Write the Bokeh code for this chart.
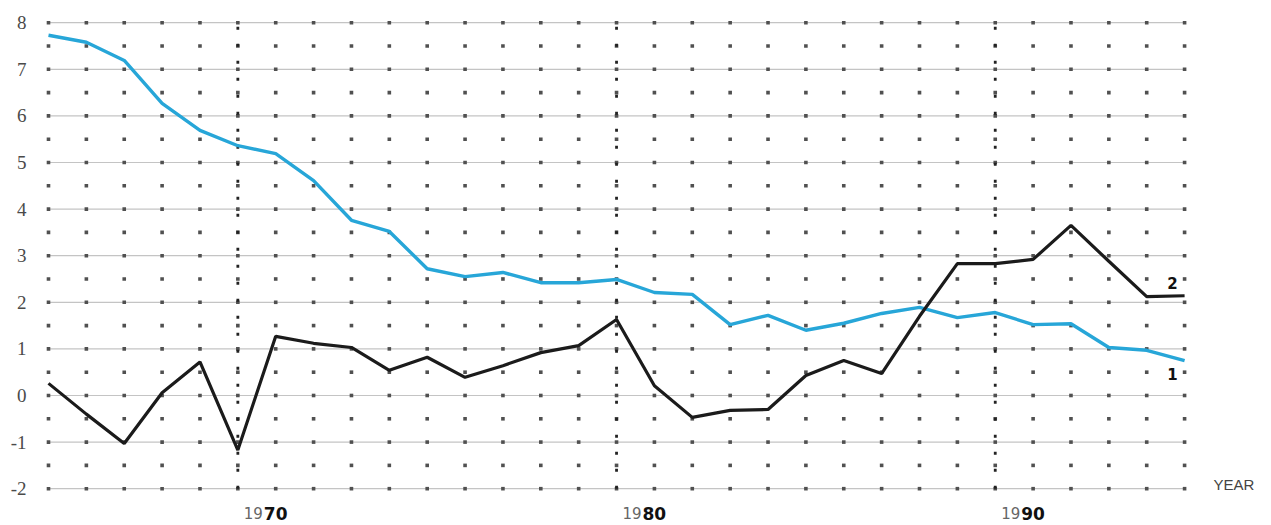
from bokeh.plotting import figure
from bokeh.models import Range1d, FixedTicker, ColumnDataSource
from bokeh.core.properties import value
from bokeh.embed import file_html
from bokeh.resources import INLINE

years = list(range(1965, 1996))
series1 = [7.73, 7.58, 7.19, 6.27, 5.69, 5.36, 5.19, 4.61, 3.76, 3.52,
           2.72, 2.55, 2.64, 2.42, 2.42, 2.49, 2.21, 2.17, 1.52, 1.72,
           1.40, 1.55, 1.76, 1.89, 1.67, 1.78, 1.52, 1.54, 1.03, 0.97, 0.75]
series2 = [0.26, -0.40, -1.03, 0.06, 0.72, -1.17, 1.27, 1.12, 1.03, 0.54,
           0.82, 0.39, 0.64, 0.92, 1.07, 1.63, 0.21, -0.47, -0.32, -0.30,
           0.43, 0.75, 0.47, 1.70, 2.83, 2.83, 2.92, 3.65, 2.88, 2.12, 2.14]
y_ticks = list(range(-2, 9))
decades = [1970, 1980, 1990]
x_labels = ["1970", "1980", "1990"]
series_names = ["1", "2"]
axis_title = "YEAR"

p = figure(width=1271, height=525,
           x_range=Range1d(1964.736, 1997.295), y_range=Range1d(-2.790, 8.476),
           output_backend="svg", toolbar_location=None, x_axis_location=None,
           min_border_left=38, min_border_right=0, min_border_top=0, min_border_bottom=0)
p.outline_line_color = None
p.grid.visible = False
p.background_fill_color = "white"

ya = p.yaxis[0]
ya.ticker = FixedTicker(ticks=y_ticks)
ya.axis_line_color = None
ya.major_tick_line_color = None
ya.minor_tick_line_color = None
ya.major_tick_out = 0
ya.major_tick_in = 0
ya.major_label_standoff = 12
ya.major_label_overrides = {t: str(t) for t in y_ticks}
ya.major_label_text_font = "Liberation Sans Narrow"
ya.major_label_text_font_size = "19px"
ya.major_label_text_color = "#4a4a4a"

# horizontal light rules at integer values
p.segment(x0=[years[0]] * len(y_ticks), x1=[years[-1]] * len(y_ticks),
          y0=y_ticks, y1=y_ticks, line_color="#c4c4c4", line_width=1.2)

# dot grid at every year and every half unit
gx, gy = [], []
for yr in years:
    for k in range(len(y_ticks) * 2 - 1):
        gx.append(yr)
        gy.append(y_ticks[0] + 0.5 * k)
p.scatter(gx, gy, marker="square", size=3.6, fill_color="#505050", line_color=None)

# dark dotted decade verticals
p.segment(x0=decades, x1=decades, y0=[y_ticks[0]] * 3, y1=[y_ticks[-1]] * 3,
          line_color="#222222", line_width=2.8, line_dash="3 14")

# series
p.line(years, series1, line_color="#27a6d8", line_width=3.4)
p.line(years, series2, line_color="#1b1b1b", line_width=3.2)

# decade labels "19" light + "70" bold
lab_src = ColumnDataSource(dict(x=decades, y=[-2.53] * 3,
                                a=[s[:2] for s in x_labels], b=[s[2:] for s in x_labels]))
p.text(x="x", y="y", text="a", source=lab_src, text_align="right", text_baseline="middle",
       x_offset=25, text_font=value("DejaVu Sans"), text_font_size="15px",
       text_color="#666666")
p.text(x="x", y="y", text="b", source=lab_src, text_align="left", text_baseline="middle",
       x_offset=26, text_font=value("DejaVu Sans"), text_font_size="17px",
       text_font_style="bold", text_color="#111111")

# axis title
p.text(x=[years[-1]], y=[y_ticks[0] + 0.1], text=[axis_title], text_align="left",
       text_baseline="middle", x_offset=29, text_font=value("Liberation Sans"),
       text_font_size="15px", text_color="#444444")

# series labels
p.text(x=[years[-1], years[-1]], y=[series1[-1] - 0.28, series2[-1] + 0.28],
       text=series_names, text_align="center", text_baseline="middle",
       x_offset=-12, text_font=value("DejaVu Sans"), text_font_size="15px",
       text_font_style="bold", text_color="#111111")

open("out.html", "w").write(file_html(p, INLINE))
